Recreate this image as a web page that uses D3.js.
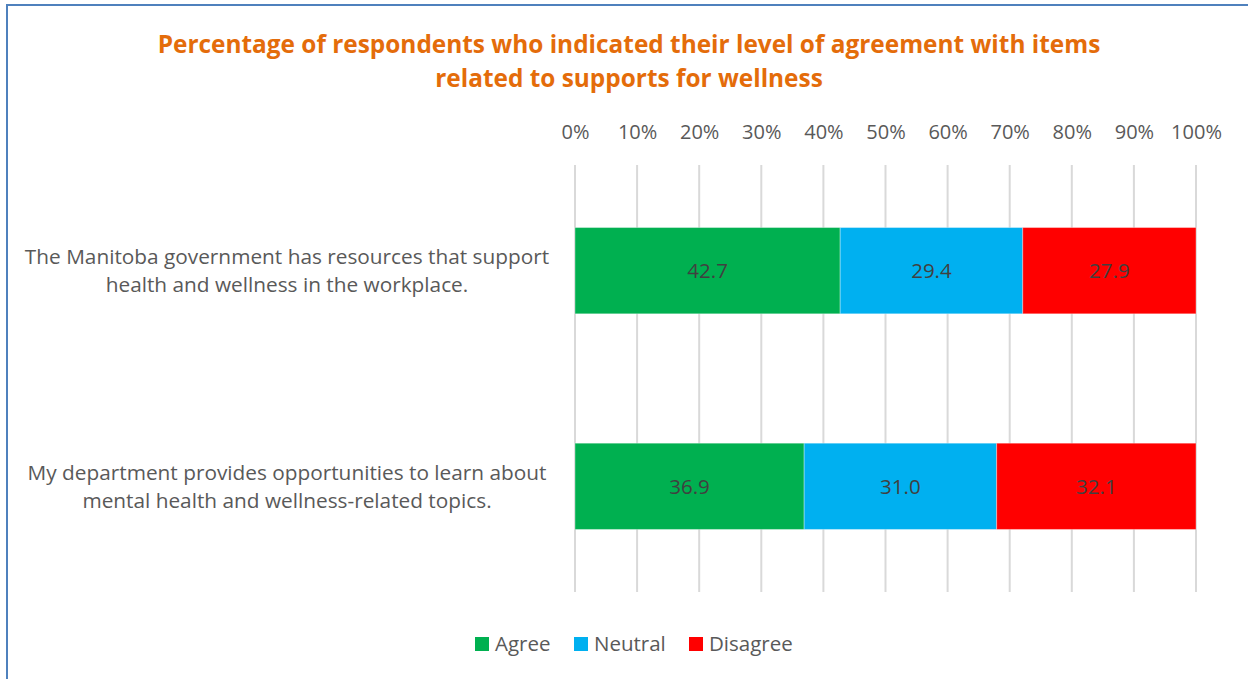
<!DOCTYPE html>
<html>
<head>
<meta charset="utf-8">
<script src="https://cdn.jsdelivr.net/npm/d3@7"></script>
<style>
  html, body { margin: 0; padding: 0; background: #fff; }
  svg { display: block; }
  text { font-family: "Open Sans", "Noto Sans", sans-serif; }
</style>
</head>
<body>
<svg id="chart" width="1248" height="679"></svg>
<script>
// Survey items (each split over two lines) and response shares in percent
const categories = [
  ["The Manitoba government has resources that support", "health and wellness in the workplace."],
  ["My department provides opportunities to learn about", "mental health and wellness-related topics."]
];
const agree    = [42.7, 36.9];
const neutral  = [29.4, 31.0];
const disagree = [27.9, 32.1];
const seriesNames = ["Agree", "Neutral", "Disagree"];
const seriesColors = ["#00B050", "#00B0F0", "#FF0000"];
const tickValues = [0, 10, 20, 30, 40, 50, 60, 70, 80, 90, 100];
const titleLines = [
  "Percentage of respondents who indicated their level of agreement with items",
  "related to supports for wellness"
];

const svg = d3.select("#chart");
const W = 1248, H = 679;

// chart frame (extends past the right/bottom of the view)
svg.append("rect")
  .attr("x", 7).attr("y", 5)
  .attr("width", W + 10).attr("height", H + 10)
  .attr("fill", "#fff")
  .attr("stroke", "#4F81BD").attr("stroke-width", 2);

const plot = { left: 575, right: 1196, top: 165, bottom: 592 };

const x = d3.scaleLinear().domain([0, 100]).range([plot.left, plot.right]);
const y = d3.scaleBand()
  .domain(d3.range(categories.length))
  .range([plot.top, plot.bottom])
  .paddingInner(0.6).paddingOuter(0.29);

// title
svg.append("g").selectAll("text")
  .data(titleLines).join("text")
  .attr("x", 629).attr("y", (d, i) => 53 + i * 34)
  .attr("text-anchor", "middle")
  .attr("fill", "#E46C0A")
  .attr("font-weight", "bold")
  .attr("font-size", 24.4)
  .text(d => d);

// vertical gridlines
svg.append("g").selectAll("line")
  .data(tickValues).join("line")
  .attr("x1", d => x(d)).attr("x2", d => x(d))
  .attr("y1", plot.top).attr("y2", plot.bottom)
  .attr("stroke", "#D9D9D9").attr("stroke-width", 2);

// top axis labels
const axis = d3.axisTop(x)
  .tickValues(tickValues)
  .tickFormat(d => d + "%")
  .tickSize(0).tickPadding(0);
const axisG = svg.append("g")
  .attr("transform", `translate(0, 139)`)
  .call(axis);
axisG.select(".domain").remove();
axisG.selectAll("text")
  .attr("fill", "#595959")
  .attr("font-size", 20)
  .attr("font-family", "\"Open Sans\", sans-serif");

// stack the series
const rows = categories.map((c, i) => ({ i, Agree: agree[i], Neutral: neutral[i], Disagree: disagree[i] }));
const stacked = d3.stack().keys(seriesNames)(rows);

const layers = svg.append("g").selectAll("g")
  .data(stacked).join("g")
  .attr("fill", (d, k) => seriesColors[k]);

layers.selectAll("rect")
  .data(d => d).join("rect")
  .attr("x", d => x(d[0]))
  .attr("width", d => x(d[1]) - x(d[0]))
  .attr("y", d => y(d.data.i))
  .attr("height", y.bandwidth())
  .attr("stroke", "rgba(255,255,255,0.35)")
  .attr("stroke-width", 1);

// value labels inside segments
layers.selectAll("text")
  .data(d => d.map(v => ({ v, key: d.key }))).join("text")
  .attr("x", d => (x(d.v[0]) + x(d.v[1])) / 2)
  .attr("y", d => y(d.v.data.i) + y.bandwidth() / 2)
  .attr("dy", "0.35em")
  .attr("text-anchor", "middle")
  .attr("fill", "#404040")
  .attr("font-size", 20.5)
  .text(d => d.v.data[d.key].toFixed(1));

// category labels
const catG = svg.append("g").selectAll("text")
  .data(categories).join("text")
  .attr("text-anchor", "middle")
  .attr("fill", "#595959")
  .attr("font-size", 20.8);
catG.selectAll("tspan")
  .data((d, i) => d.map((line, j) => ({ line, j, i }))).join("tspan")
  .attr("x", 287)
  .attr("y", d => y(d.i) + y.bandwidth() / 2 + (d.j === 0 ? -14 : 14))
  .attr("dy", "0.35em")
  .text(d => d.line);

// legend
const legendItems = [
  { name: seriesNames[0], color: seriesColors[0], x: 475 },
  { name: seriesNames[1], color: seriesColors[1], x: 574 },
  { name: seriesNames[2], color: seriesColors[2], x: 689 }
];
const lg = svg.append("g").selectAll("g")
  .data(legendItems).join("g")
  .attr("transform", d => `translate(${d.x}, 644)`);
lg.append("rect")
  .attr("x", 0).attr("y", -7).attr("width", 14).attr("height", 14)
  .attr("fill", d => d.color);
lg.append("text")
  .attr("x", 20).attr("dy", "0.35em")
  .attr("fill", "#595959")
  .attr("font-size", 20.5)
  .text(d => d.name);
</script>
</body>
</html>
